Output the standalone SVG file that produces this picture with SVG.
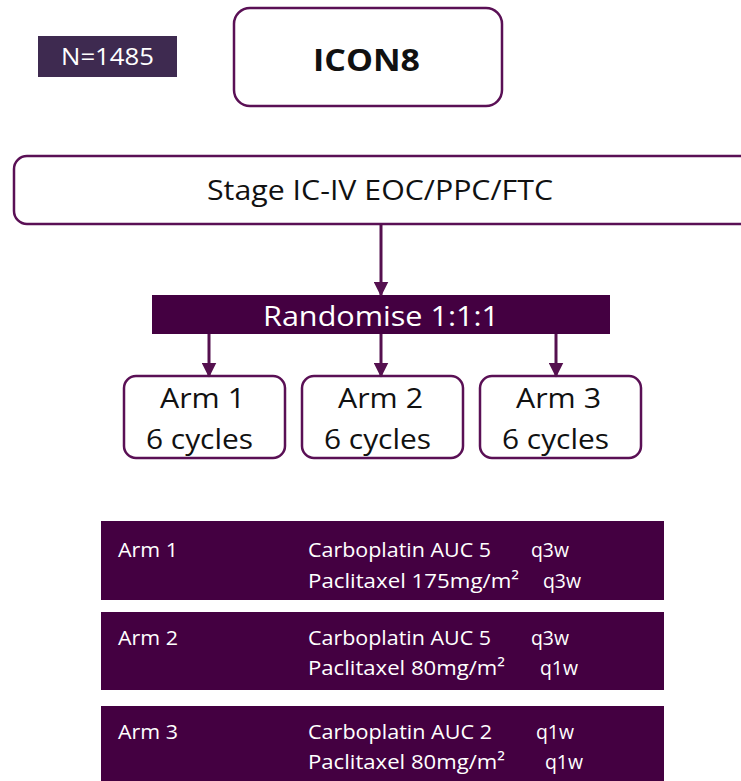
<svg xmlns="http://www.w3.org/2000/svg" width="741" height="781" viewBox="0 0 741 781">
<defs>
<marker id="ah" viewBox="0 0 10 10" refX="9" refY="5" markerWidth="5" markerHeight="5" markerUnits="strokeWidth" orient="auto">
<path d="M0,0 L10,5 L0,10 Z" fill="#55104f"/>
</marker>
<style>
text{font-family:"Open Sans","Liberation Sans",sans-serif;}
.box{fill:#fff;stroke:#5a1055;stroke-width:2.5;}
.dark{fill:#440041;}
.big{font-size:28px;fill:#111;text-anchor:middle;}
.wt{fill:#fff;}
.sm{font-size:20px;fill:#fff;}
.conn{stroke:#55104f;stroke-width:3;fill:none;marker-end:url(#ah);}
</style>
</defs>
<g id="n-box">
<rect x="38" y="36" width="139" height="41" fill="#3e2a50"/>
<text x="107.5" y="65" font-size="23" class="wt" text-anchor="middle" textLength="93" lengthAdjust="spacingAndGlyphs">N=1485</text>
</g>
<g id="icon8">
<rect class="box" x="234" y="8" width="268" height="98" rx="16"/>
<text x="366.5" y="71" font-size="31" font-weight="bold" fill="#111" text-anchor="middle" textLength="107" lengthAdjust="spacingAndGlyphs">ICON8</text>
</g>
<g id="stage">
<rect class="box" x="14" y="156" width="740" height="68" rx="13"/>
<text class="big" x="380" y="200" textLength="346" lengthAdjust="spacingAndGlyphs">Stage IC-IV EOC/PPC/FTC</text>
</g>
<g id="randomise">
<rect class="dark" x="152" y="295" width="458" height="39" fill="#4a0045"/>
<text class="big wt" x="381" y="326" textLength="236" lengthAdjust="spacingAndGlyphs">Randomise 1:1:1</text>
</g>
<g id="arm1">
<rect class="box" x="124" y="376" width="161" height="82" rx="12"/>
<text class="big" x="202.5" y="408" textLength="85" lengthAdjust="spacingAndGlyphs">Arm 1</text>
<text class="big" x="199.5" y="449" textLength="107" lengthAdjust="spacingAndGlyphs">6 cycles</text>
</g>
<g id="arm2">
<rect class="box" x="302" y="376" width="161" height="82" rx="12"/>
<text class="big" x="380.5" y="408" textLength="85" lengthAdjust="spacingAndGlyphs">Arm 2</text>
<text class="big" x="377.5" y="449" textLength="107" lengthAdjust="spacingAndGlyphs">6 cycles</text>
</g>
<g id="arm3">
<rect class="box" x="480" y="376" width="161" height="82" rx="12"/>
<text class="big" x="558.5" y="408" textLength="85" lengthAdjust="spacingAndGlyphs">Arm 3</text>
<text class="big" x="555.5" y="449" textLength="107" lengthAdjust="spacingAndGlyphs">6 cycles</text>
</g>
<g id="connectors">
<line class="conn" x1="381" y1="224" x2="381" y2="295"/>
<line class="conn" x1="209" y1="334" x2="209" y2="376"/>
<line class="conn" x1="381" y1="334" x2="381" y2="376"/>
<line class="conn" x1="556" y1="334" x2="556" y2="376"/>
</g>
<g id="detail1">
<rect class="dark" x="101" y="521" width="563" height="79"/>
<text class="sm" x="118" y="557" textLength="60" lengthAdjust="spacingAndGlyphs">Arm 1</text>
<text class="sm" x="308" y="557" textLength="183" lengthAdjust="spacingAndGlyphs">Carboplatin AUC 5</text>
<text class="sm" x="531" y="557" textLength="38" lengthAdjust="spacingAndGlyphs">q3w</text>
<text class="sm" x="308" y="588" textLength="211" lengthAdjust="spacingAndGlyphs">Paclitaxel 175mg/m²</text>
<text class="sm" x="543" y="588" textLength="38" lengthAdjust="spacingAndGlyphs">q3w</text>
</g>
<g id="detail2">
<rect class="dark" x="101" y="612" width="563" height="78"/>
<text class="sm" x="118" y="645" textLength="60" lengthAdjust="spacingAndGlyphs">Arm 2</text>
<text class="sm" x="308" y="645" textLength="183" lengthAdjust="spacingAndGlyphs">Carboplatin AUC 5</text>
<text class="sm" x="531" y="645" textLength="38" lengthAdjust="spacingAndGlyphs">q3w</text>
<text class="sm" x="308" y="675" textLength="197" lengthAdjust="spacingAndGlyphs">Paclitaxel 80mg/m²</text>
<text class="sm" x="540" y="675" textLength="38" lengthAdjust="spacingAndGlyphs">q1w</text>
</g>
<g id="detail3">
<rect class="dark" x="101" y="706" width="563" height="80"/>
<text class="sm" x="118" y="739" textLength="60" lengthAdjust="spacingAndGlyphs">Arm 3</text>
<text class="sm" x="308" y="739" textLength="184" lengthAdjust="spacingAndGlyphs">Carboplatin AUC 2</text>
<text class="sm" x="536" y="739" textLength="38" lengthAdjust="spacingAndGlyphs">q1w</text>
<text class="sm" x="308" y="769" textLength="197" lengthAdjust="spacingAndGlyphs">Paclitaxel 80mg/m²</text>
<text class="sm" x="545" y="769" textLength="38" lengthAdjust="spacingAndGlyphs">q1w</text>
</g>
</svg>
